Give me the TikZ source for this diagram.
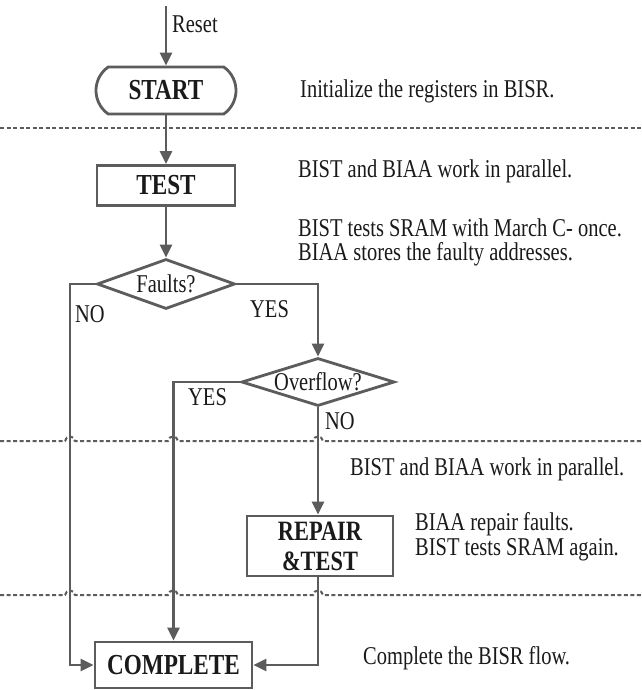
\documentclass[tikz,border=0pt]{standalone}
\usepackage{fontspec}
\setmainfont[FakeStretch=0.8]{Liberation Serif}
\usetikzlibrary{arrows.meta,shapes.geometric,shapes.misc}
\definecolor{ln}{HTML}{5C5C5C}
\definecolor{tx}{HTML}{1A1A1A}
\newcommand\txtfont{\fontsize{25.6}{22}\selectfont}
\newcommand\boxfont{\fontsize{29}{30}\selectfont\bfseries}
\begin{document}
\begin{tikzpicture}[x=1pt,y=-1pt,
  conn/.style={draw=ln, line width=2.8pt},
  arr/.style={conn, -{Triangle[length=13pt,width=12pt]}},
  boxnode/.style={draw=ln, line width=2.8pt, rectangle, inner sep=0pt, text=tx, font=\boxfont},
  dianode/.style={draw=ln, line width=2.8pt, diamond, inner sep=0pt, text=tx, font=\txtfont},
  note/.style={anchor=base west, inner sep=0pt, text=tx, font=\txtfont},
  sepline/.style={draw=ln, line width=2pt, dash pattern=on 4pt off 2.5pt}]
\useasboundingbox (0,0) rectangle (641,690);
\fill[white] (0,0) rectangle (641,690);

% separator lines
\draw[sepline] (0,128) -- (641,128);
\draw[sepline] (0,441) -- (65,441) .. controls (66,435) and (74,435) .. (75,441)
  -- (168,441) .. controls (169,435) and (177,435) .. (178,441)
  -- (313,441) .. controls (314,435) and (322,435) .. (323,441) -- (641,441);
\draw[sepline] (0,595) -- (65,595) .. controls (66,589) and (74,589) .. (75,595)
  -- (168,595) .. controls (169,589) and (177,589) .. (178,595)
  -- (313,595) .. controls (314,589) and (322,589) .. (323,595) -- (641,595);

% nodes
\node[boxnode, rounded rectangle, rounded rectangle arc length=110,
      minimum width=140pt, minimum height=47pt] (S) at (166,90.5) {START};
\node[boxnode, minimum width=138pt, minimum height=40pt] (T) at (166,185.5) {TEST};
\node[dianode, aspect=2.76, minimum width=138pt, minimum height=50pt] (F) at (166,284) {Faults?};
\node[dianode, aspect=3.2, minimum width=153pt, minimum height=48pt] (O) at (318,382) {Overflow?};
\node[boxnode, minimum width=146pt, minimum height=60pt, align=center,
      font=\fontsize{28}{30}\selectfont\bfseries] (R) at (320,546) {REPAIR\\\&TEST};
\node[boxnode, minimum width=157pt, minimum height=46pt] (C) at (173.5,665) {COMPLETE};

% connectors
\coordinate (rs) at (166,6);
\coordinate (nl) at (70,284);
\draw[arr] (rs) -- (S.north);
\draw[arr] (S.south) -- (T.north);
\draw[arr] (T.south) -- (F.north);
\draw[arr] (F.west) -- (nl) |- (C.west);
\draw[arr] (F.east) -| (O.north);
\draw[arr] (O.west) -| (C.north);
\draw[arr] (O.south) -- (O.south |- R.north);
\draw[arr] (O.south |- R.south) |- (C.east);

% labels
\node[note] (lreset) at (172,33) {Reset};
\node[note] (lno1) at (75,322) {NO};
\node[note] (lyes1) at (250,317) {YES};
\node[note] (lyes2) at (188,405) {YES};
\node[note] (lno2) at (325,429) {NO};

% notes
\node[note] (n1) at (300,98) {Initialize the registers in BISR.};
\node[note] (n2) at (298,177) {BIST and BIAA work in parallel.};
\node[note, text depth=0pt] (n3) at (298,236) {BIST tests SRAM with March C- once.};
\node[note] (n4) at (298,260) {BIAA stores the faulty addresses.};
\node[note] (n5) at (350,475) {BIST and BIAA work in parallel.};
\node[note, text depth=0pt] (n6) at (415,530) {BIAA repair faults.};
\node[note, text height=16pt] (n7) at (415,555.5) {BIST tests SRAM again.};
\node[note] (n8) at (363,664) {Complete the BISR flow.};
\end{tikzpicture}
\end{document}
